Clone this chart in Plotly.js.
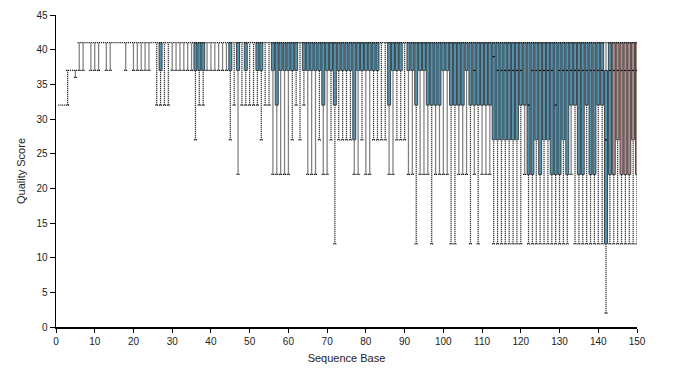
<!DOCTYPE html>
<html>
<head>
<meta charset="utf-8">
<script src="https://cdn.plot.ly/plotly-3.0.1.min.js"></script>
<style>html,body{margin:0;padding:0;background:#fff}#chart{width:690px;height:387px}</style>
</head>
<body>
<div id="chart"></div>
<script>
// ---- DATA ----
const positions = [
  1,2,3,4,5,6,7,8,9,10, 11,12,13,14,15,16,17,18,19,20,
  21,22,23,24,25,26,27,28,29,30, 31,32,33,34,35,36,37,38,39,40,
  41,42,43,44,45,46,47,48,49,50, 51,52,53,54,55,56,57,58,59,60,
  61,62,63,64,65,66,67,68,69,70, 71,72,73,74,75,76,77,78,79,80,
  81,82,83,84,85,86,87,88,89,90, 91,92,93,94,95,96,97,98,99,100,
  101,102,103,104,105,106,107,108,109,110, 111,112,113,114,115,116,117,118,119,120,
  121,122,123,124,125,126,127,128,129,130, 131,132,133,134,135,136,137,138,139,140,
  141,142,143,144,145,146,147,148,149,150
];
const lowerWhisker = [
  32,32,32,37,36,37,37,41,37,37,
  37,41,37,37,41,41,41,37,41,37,
  37,37,37,37,41,32,32,32,32,37,
  37,37,37,37,37,27,32,32,37,37,
  37,37,37,37,27,32,22,32,32,32,
  32,32,27,32,32,22,22,22,22,22,
  27,32,27,32,22,22,22,27,22,22,
  27,12,27,27,27,27,22,22,27,22,
  22,27,27,27,27,22,22,27,27,27,
  22,22,12,22,22,22,12,22,22,22,
  22,12,12,22,22,22,12,22,12,22,
  22,22,12,12,12,12,12,12,12,12,
  22,12,12,12,12,12,12,12,12,12,
  12,12,22,12,12,12,12,12,12,12,
  12,2,12,12,12,12,12,12,12,12
];
const lowerQuartile = [
  32,32,37,37,37,41,41,41,41,41,
  41,41,41,41,41,41,41,41,41,41,
  41,41,41,41,41,41,37,41,41,41,
  41,41,41,41,41,37,37,37,41,41,
  41,41,41,41,37,41,37,41,37,41,
  41,37,37,41,41,37,32,37,37,37,
  37,37,41,37,37,37,37,37,32,37,
  37,32,37,37,37,37,27,37,37,37,
  37,37,37,41,41,32,37,37,37,41,
  37,37,32,37,37,32,32,32,32,37,
  37,32,32,32,32,37,32,32,32,32,
  32,32,27,27,27,27,27,27,27,32,
  32,22,22,27,22,27,27,22,22,22,
  27,22,32,32,22,22,32,22,22,32,
  32,12,22,22,27,22,22,22,27,22
];
const medianScore = [
  32,32,37,37,37,41,41,41,41,41,
  41,41,41,41,41,41,41,41,41,41,
  41,41,41,41,41,41,41,41,41,41,
  41,41,41,41,41,41,41,41,41,41,
  41,41,41,41,41,41,41,41,41,41,
  41,41,41,41,41,41,41,41,41,41,
  41,41,41,41,41,41,41,41,41,41,
  41,41,41,41,41,41,41,41,41,41,
  41,41,41,41,41,41,41,41,41,41,
  41,41,41,41,41,41,41,41,41,41,
  41,41,41,41,41,41,41,37,41,41,
  41,41,39,37,37,37,37,37,37,37,
  41,32,37,37,37,37,37,37,32,37,
  37,37,37,37,37,37,37,37,37,37,
  37,27,37,37,37,37,37,37,37,37
];
const upperQuartile = [
  32,32,37,37,37,41,41,41,41,41,
  41,41,41,41,41,41,41,41,41,41,
  41,41,41,41,41,41,41,41,41,41,
  41,41,41,41,41,41,41,41,41,41,
  41,41,41,41,41,41,41,41,41,41,
  41,41,41,41,41,41,41,41,41,41,
  41,41,41,41,41,41,41,41,41,41,
  41,41,41,41,41,41,41,41,41,41,
  41,41,41,41,41,41,41,41,41,41,
  41,41,41,41,41,41,41,41,41,41,
  41,41,41,41,41,41,41,41,41,41,
  41,41,41,41,41,41,41,41,41,41,
  41,41,41,41,41,41,41,41,41,41,
  41,41,41,41,41,41,41,41,41,41,
  41,37,41,41,41,41,41,41,41,41
];
const upperWhisker = [
  32,32,37,37,37,41,41,41,41,41,
  41,41,41,41,41,41,41,41,41,41,
  41,41,41,41,41,41,41,41,41,41,
  41,41,41,41,41,41,41,41,41,41,
  41,41,41,41,41,41,41,41,41,41,
  41,41,41,41,41,41,41,41,41,41,
  41,41,41,41,41,41,41,41,41,41,
  41,41,41,41,41,41,41,41,41,41,
  41,41,41,41,41,41,41,41,41,41,
  41,41,41,41,41,41,41,41,41,41,
  41,41,41,41,41,41,41,41,41,41,
  41,41,41,41,41,41,41,41,41,41,
  41,41,41,41,41,41,41,41,41,41,
  41,41,41,41,41,41,41,41,41,41,
  41,41,41,41,41,41,41,41,41,41
];
const flaggedBases = [144,145,146,147,148,149,150];
const xTickValues = [0,10,20,30,40,50,60,70,80,90,100,110,120,130,140,150];
const yTickValues = [0,5,10,15,20,25,30,35,40,45];

// ---- STYLE ----
const boxBlue = '#5192b0';
const boxPink = '#b08d8d';
const capHalf = 0.4;
const medHalf = 0.25;

// ---- BUILD TRACES ----
const wX = [], wY = [], mX = [], mY = [];
const barY = [], barBase = [], barColor = [];
for (let i = 0; i < positions.length; i++) {
  const p = positions[i];
  const lo = lowerWhisker[i], q1 = lowerQuartile[i], md = medianScore[i];
  const q3 = upperQuartile[i], hi = upperWhisker[i];
  if (lo < q1) {
    wX.push(p, p, null); wY.push(lo, q1, null);
    wX.push(p - capHalf, p + capHalf, null); wY.push(lo, lo, null);
  }
  if (q3 < hi) { wX.push(p, p, null); wY.push(q3, hi, null); }
  wX.push(p - capHalf, p + capHalf, null); wY.push(hi, hi, null);
  if (q3 > q1 && md < q3 && md >= q1) { mX.push(p - medHalf, p + medHalf, null); mY.push(md, md, null); }
  barY.push(q3 > q1 ? q3 - q1 : null);
  barBase.push(q1);
  barColor.push(flaggedBases.indexOf(p) >= 0 ? boxPink : boxBlue);
}

const traces = [
  {
    type: 'bar', x: positions, y: barY, base: barBase, width: 0.78,
    marker: { color: barColor, line: { color: '#2b2b2b', width: 0.8 } },
    hoverinfo: 'skip'
  },
  {
    type: 'scatter', mode: 'lines', x: wX, y: wY, connectgaps: false,
    line: { color: '#000', width: 1.25, dash: '1px,1px' }, hoverinfo: 'skip'
  },
  {
    type: 'scatter', mode: 'lines', x: mX, y: mY, connectgaps: false,
    line: { color: '#000', width: 1.2 }, hoverinfo: 'skip'
  }
];

const layout = {
  width: 690, height: 387,
  margin: { l: 56, r: 53, t: 15, b: 60 },
  paper_bgcolor: '#fff', plot_bgcolor: '#fff',
  showlegend: false,
  font: { family: '"Liberation Sans", Arial, sans-serif', size: 10, color: '#222' },
  xaxis: {
    range: [0, 150], tickmode: 'array', tickvals: xTickValues,
    ticks: 'outside', ticklen: 4, tickcolor: '#000', tickwidth: 1,
    showline: true, linecolor: '#000', linewidth: 1.5,
    showgrid: false, zeroline: false,
    title: { text: 'Sequence Base', font: { size: 11, color: '#222' }, standoff: 9 }
  },
  yaxis: {
    range: [0, 45], tickmode: 'array', tickvals: yTickValues,
    ticks: 'outside', ticklen: 5, tickcolor: '#000', tickwidth: 1,
    showline: true, linecolor: '#000', linewidth: 1.5,
    showgrid: false, zeroline: false,
    title: { text: 'Quality Score', font: { size: 11, color: '#222' }, standoff: 8 }
  }
};

Plotly.newPlot('chart', traces, layout, { staticPlot: true, displayModeBar: false });
</script>
</body>
</html>
